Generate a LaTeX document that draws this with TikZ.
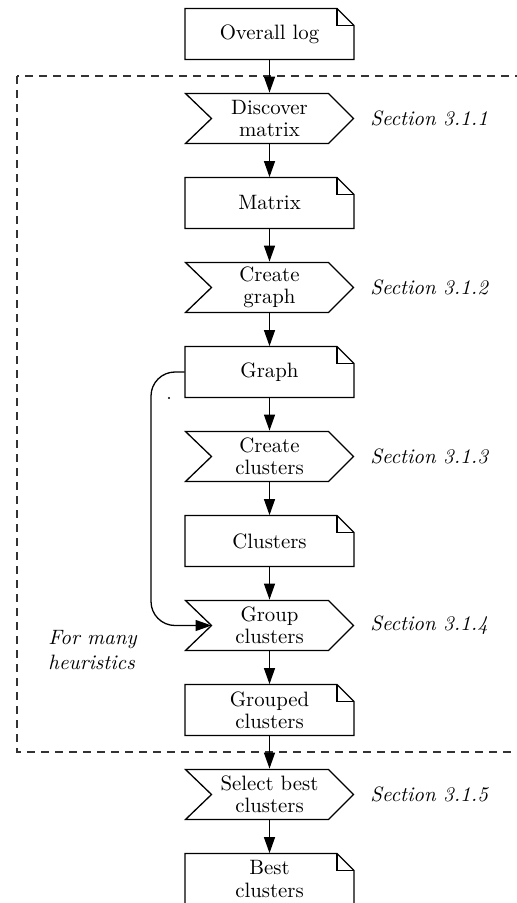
\documentclass[tikz,border=0pt]{standalone}
\usetikzlibrary{arrows.meta}
\tikzset{
  shapeline/.style={line width=0.65pt, line join=miter},
  boxtext/.style={align=center, inner sep=0pt, minimum width=84.5pt, minimum height=25.5pt, font=\fontsize{10.4}{11.2}\selectfont},
  arr/.style={line width=0.65pt, -{Triangle[length=8pt,width=5.5pt]}},
  seclabel/.style={font=\fontsize{10.4}{12.4}\selectfont\itshape, inner sep=0pt, anchor=west},
  frame/.style={line width=0.6pt, dash pattern=on 4pt off 3pt, draw=black!80},
}
\newcommand{\mydoc}[3]{%
  \node[boxtext] (#1) at (269.5,#2) {#3};
  \draw[shapeline] (185,#2-25.5) -- (337,#2-25.5) -- (354,#2-8.5) -- (354,#2+25.5) -- (185,#2+25.5) -- cycle;
  \draw[shapeline] (337,#2-25.5) |- (354,#2-8.5);
}
\newcommand{\mychev}[3]{%
  \node[boxtext] (#1) at (269.5,#2) {#3};
  \draw[shapeline] (185.5,#2-25) -- (328.5,#2-25) -- (353.5,#2) -- (328.5,#2+25) -- (185.5,#2+25) -- (211.5,#2) -- cycle;
  \coordinate (#1-notch) at (211.5,#2);
}
\begin{document}
\begin{tikzpicture}[x=0.5pt,y=-0.5pt]
\useasboundingbox (0,0) rectangle (517,903);
\clip (0,0) rectangle (517,903);
\draw[frame] (17,76) rectangle (560,752);
\mydoc{log}{34}{Overall log}
\mychev{discover}{118.5}{Discover\\matrix}
\mydoc{matrix}{203}{Matrix}
\mychev{creategraph}{287.5}{Create\\graph}
\mydoc{graph}{372}{Graph}
\mychev{createclusters}{456.5}{Create\\clusters}
\mydoc{clusters}{541}{Clusters}
\mychev{group}{625.5}{Group\\clusters}
\mydoc{grouped}{710}{Grouped\\clusters}
\mychev{select}{794.5}{Select best\\clusters}
\mydoc{best}{879}{Best\\clusters}
\node[seclabel] (s1) at (370,118.5) {Section 3.1.1};
\node[seclabel] (s2) at (370,287.5) {Section 3.1.2};
\node[seclabel] (s3) at (370,456.5) {Section 3.1.3};
\node[seclabel] (s4) at (370,625.5) {Section 3.1.4};
\node[seclabel] (s5) at (370,794.5) {Section 3.1.5};
\node[seclabel, align=left] (many) at (48,650) {For many\\heuristics};
\fill (169,398) circle (0.6pt);
\draw[arr] (log.south) -- (discover.north);
\draw[arr] (discover.south) -- (matrix.north);
\draw[arr] (matrix.south) -- (creategraph.north);
\draw[arr] (creategraph.south) -- (graph.north);
\draw[arr] (graph.south) -- (createclusters.north);
\draw[arr] (createclusters.south) -- (clusters.north);
\draw[arr] (clusters.south) -- (group.north);
\draw[arr] (group.south) -- (grouped.north);
\draw[arr] (grouped.south) -- (select.north);
\draw[arr] (select.south) -- (best.north);
\draw[arr, rounded corners=12pt] (graph.west) -- (151,372) -- (151,625.5) -- (group-notch);
\end{tikzpicture}
\end{document}
